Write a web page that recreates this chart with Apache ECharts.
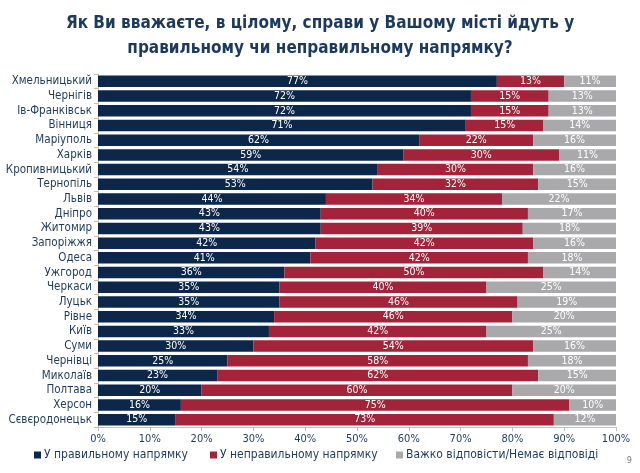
<!DOCTYPE html>
<html><head><meta charset="utf-8">
<script src="https://cdn.jsdelivr.net/npm/echarts@6/dist/echarts.min.js"></script>
<style>html,body{margin:0;padding:0;background:#fff}#c{width:640px;height:473px}</style>
</head><body><div id="c"></div>
<script>
const cities = ['Хмельницький','Чернігів','Ів-Франківськ','Вінниця','Маріуполь','Харків','Кропивницький','Тернопіль','Львів','Дніпро','Житомир','Запоріжжя','Одеса','Ужгород','Черкаси','Луцьк','Рівне','Київ','Суми','Чернівці','Миколаїв','Полтава','Херсон','Сєвєродонецьк'];
const rightDir = [77,72,72,71,62,59,54,53,44,43,43,42,41,36,35,35,34,33,30,25,23,20,16,15];
const wrongDir = [13,15,15,15,22,30,30,32,34,40,39,42,42,50,40,46,46,42,54,58,62,60,75,73];
const hardToSay = [11,13,13,14,16,11,16,15,22,17,18,16,18,14,25,19,20,25,16,18,15,20,10,12];
const seriesNames = ['У правильному напрямку','У неправильному напрямку','Важко відповісти/Немає відповіді'];
const colors = ['#0c2749','#a2233a','#a9a9ab'];
const titleText = 'Як Ви вважаєте, в цілому, справи у Вашому місті йдуть у\nправильному чи неправильному напрямку?';

const font = '"DejaVu Sans Condensed", "Open Sans"';
const chart = echarts.init(document.getElementById('c'));
const mk = (name, data, i) => ({
  name, type: 'bar', stack: 'all', data,
  barCategoryGap: '22%',
  itemStyle: {color: colors[i]},
  label: {show: true, position: 'inside', color: '#fff', fontSize: 10.5, fontFamily: font,
    formatter: p => p.value + '%'},
  emphasis: {disabled: true}
});
chart.setOption({
  animation: false,
  title: {text: titleText, left: 'center', top: 6,
    textStyle: {fontFamily: font, fontSize: 17, fontWeight: 'bold', color: '#1c3a5e', lineHeight: 25}},
  grid: {left: 98, right: 24, top: 74, bottom: 46},
  xAxis: {type: 'value', min: 0, max: 100, interval: 10,
    axisLine: {show: true, lineStyle: {color: '#bfbfbf'}},
    axisTick: {show: true, length: 4, lineStyle: {color: '#bfbfbf'}},
    splitLine: {show: false},
    axisLabel: {formatter: '{value}%', color: '#1c3a5e', fontSize: 11, fontFamily: font, margin: 7}},
  yAxis: {type: 'category', data: cities, inverse: true,
    axisLine: {show: true, lineStyle: {color: '#bfbfbf'}},
    axisTick: {show: true, length: 4, lineStyle: {color: '#bfbfbf'}},
    axisLabel: {interval: 0, color: '#1c3a5e', fontSize: 11.5, fontFamily: font, margin: 6}},
  legend: [0,1,2].map(i => ({
    data: [seriesNames[i]], left: [29, 205, 391][i], top: 444,
    itemWidth: 7, itemHeight: 7, icon: 'rect', itemGap: 4,
    textStyle: {color: '#1c3a5e', fontSize: 12, fontFamily: font, padding: [0,0,0,-2]}
  })),
  graphic: [{type: 'text', right: 8, top: 456, style: {text: '9', fill: '#777', fontSize: 9, fontFamily: font}}],
  series: [mk(seriesNames[0], rightDir, 0), mk(seriesNames[1], wrongDir, 1), mk(seriesNames[2], hardToSay, 2)]
});
</script></body></html>
